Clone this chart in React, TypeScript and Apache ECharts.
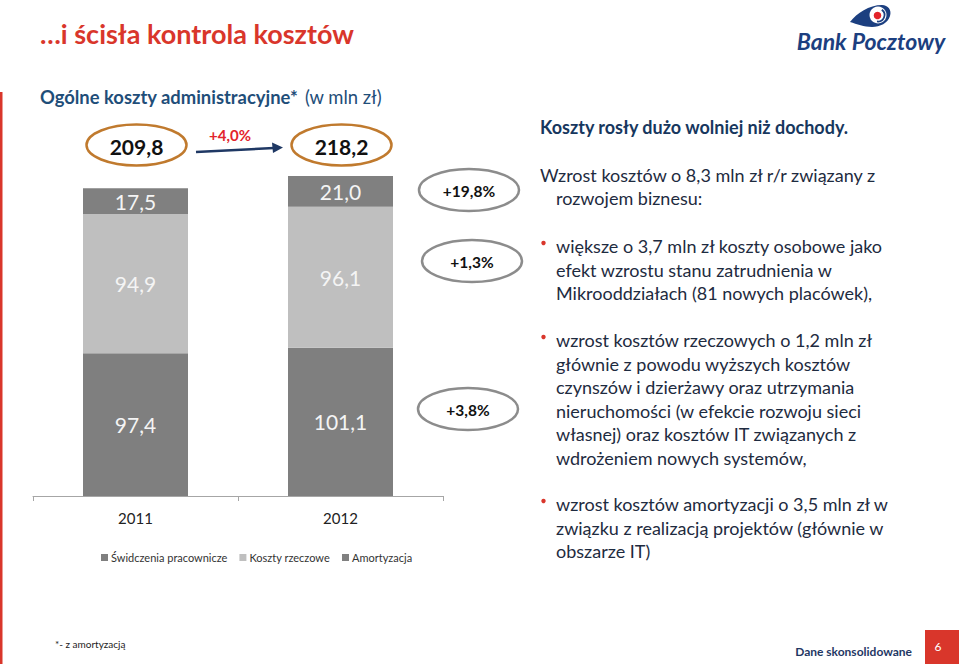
import React, { useEffect, useRef } from "react";
import * as echarts from "echarts";

const years = ["2011", "2012"];
const seriesNames = ["Świdczenia pracownicze", "Koszty rzeczowe", "Amortyzacja"];
const swiadczenia = [97.4, 101.1];
const rzeczowe = [94.9, 96.1];
const amortyzacja = [17.5, 21.0];
const totalGrowth = "+4,0%";
const segmentGrowth = ["+19,8%", "+1,3%", "+3,8%"];

const titleText = "…i ścisła kontrola kosztów";
const subtitleBold = "Ogólne koszty administracyjne*";
const subtitleUnit = "(w mln zł)";
const headline = "Koszty rosły dużo wolniej niż dochody.";
const introLines = ["Wzrost kosztów o 8,3 mln zł r/r związany z", "rozwojem biznesu:"];
const bullet1 = [
  "większe o 3,7 mln zł koszty osobowe jako",
  "efekt wzrostu stanu zatrudnienia w",
  "Mikrooddziałach (81 nowych placówek),",
];
const bullet2 = [
  "wzrost kosztów rzeczowych o 1,2 mln zł",
  "głównie z powodu wyższych kosztów",
  "czynszów i dzierżawy oraz utrzymania",
  "nieruchomości (w efekcie rozwoju sieci",
  "własnej) oraz kosztów IT związanych z",
  "wdrożeniem nowych systemów,",
];
const bullet3 = [
  "wzrost kosztów amortyzacji o 3,5 mln zł w",
  "związku z realizacją projektów (głównie w",
  "obszarze IT)",
];
const footnote = "*- z amortyzacją";
const footerLabel = "Dane skonsolidowane";
const pageNumber = "6";
const logoText = "Bank Pocztowy";

const FONT = "Lato, 'Open Sans', sans-serif";
const fmt = (v: number) => v.toFixed(1).replace(".", ",");

export default function App() {
  const ref = useRef<HTMLDivElement>(null);

  useEffect(() => {
    document.body.style.margin = "0";
    if (!ref.current) return;
    try {
      echarts.graphic.registerShape(
        "bpSwoosh",
        echarts.graphic.extendPath(
          "M850,22 C857,13 869,5 882,5 C888,5 892,10 890,16 C888,23 880,27 872,27 C864,27 857,24 850,22 Z",
          {}
        )
      );
    } catch (e) {}
    const chart = echarts.init(ref.current, null, { renderer: "svg" });

    const label = {
      show: true,
      position: "inside",
      color: "#f4f4f4",
      fontSize: 21,
      fontFamily: FONT,
      formatter: (p: any) => fmt(p.value),
    };
    const dataSets = [swiadczenia, rzeczowe, amortyzacja];
    const colors = ["#7f7f7f", "#bfbfbf", "#808080"];

    chart.setOption({
      animation: false,
      textStyle: { fontFamily: FONT },
      grid: { left: 33, right: 517, top: 56, bottom: 168 },
      xAxis: {
        type: "category",
        data: years,
        axisLine: { lineStyle: { color: "#a6a6a6", width: 1 } },
        axisTick: { show: true, length: 5, lineStyle: { color: "#a6a6a6" } },
        axisLabel: { color: "#222", fontSize: 15, margin: 14, fontFamily: FONT },
      },
      yAxis: { type: "value", min: 0, max: 300, show: false, splitLine: { show: false } },
      legend: {
        data: seriesNames,
        left: 96,
        top: 547,
        icon: "rect",
        itemWidth: 7,
        itemHeight: 7,
        itemGap: 12,
        textStyle: { fontSize: 11, color: "#333", fontFamily: FONT, padding: [0, 0, 0, -2] },
      },
      series: seriesNames.map((name, i) => ({
        name,
        type: "bar",
        stack: "total",
        barWidth: 105,
        data: dataSets[i],
        itemStyle: { color: colors[i] },
        label,
      })),
    });

    const totals = years.map((_, i) => swiadczenia[i] + rzeczowe[i] + amortyzacja[i]);
    const xs = years.map((y) => chart.convertToPixel({ xAxisIndex: 0 }, y) as number);

    const text = (t: string, x: number, y: number, size: number, fill: string, weight = "normal", align = "left", extra: any = {}) => ({
      type: "text",
      silent: true,
      style: {
        text: t,
        x,
        y,
        fill,
        font: `${extra.italic ? "italic " : ""}${weight} ${size}px ${FONT}`,
        textAlign: align,
        textVerticalAlign: "middle",
      },
    });

    const g: any[] = [];
    // left red rule
    g.push({ type: "rect", shape: { x: 0, y: 92, width: 2.5, height: 572 }, style: { fill: "#d9362b" } });
    // title
    g.push(text(titleText, 40, 33, 27, "#d9362b", "bold"));
    g.push(text(subtitleBold, 40, 97, 18.4, "#1f4e79", "bold"));
    g.push(text(subtitleUnit, 305, 97, 18.4, "#1f4e79"));

    // total ellipses
    const totalColors = "#c07a2e";
    totals.forEach((t, i) => {
      g.push({ type: "ellipse", shape: { cx: xs[i] + 1, cy: 145, rx: 50, ry: 20.5 }, style: { fill: "#fff", stroke: totalColors, lineWidth: 2.5 } });
      g.push(text(fmt(t), xs[i] + 1, 146, 21, "#111", "bold", "center"));
    });
    // arrow
    g.push({ type: "line", shape: { x1: 196, y1: 152, x2: 274, y2: 148 }, style: { stroke: "#1f3864", lineWidth: 2.5 } });
    g.push({ type: "polygon", shape: { points: [[283, 147.5], [272, 142.5], [273, 153]] }, style: { fill: "#1f3864" } });
    g.push(text(totalGrowth, 230, 135, 15, "#e3242b", "bold", "center"));

    // segment growth ellipses
    const gy = [190, 261, 409];
    const gx = [469, 472, 468];
    segmentGrowth.forEach((s, i) => {
      g.push({ type: "ellipse", shape: { cx: gx[i], cy: gy[i], rx: 50, ry: 21 }, style: { fill: "#fff", stroke: "#8c8c8c", lineWidth: 2.5 } });
      g.push(text(s, gx[i], gy[i] + 1, 15.5, "#111", "bold", "center"));
    });

    // right panel
    const body = "#1e2b40";
    const fs = 18;
    g.push(text(headline, 540, 127, fs, "#17375e", "bold"));
    g.push(text(introLines[0], 540, 175, fs, body));
    g.push(text(introLines[1], 556, 198, fs, body));
    const lh = 23.5;
    const blocks: [string[], number][] = [[bullet1, 246], [bullet2, 340], [bullet3, 504]];
    blocks.forEach(([lines, y0]) => {
      g.push({ type: "circle", shape: { cx: 543.5, cy: y0 - 3, r: 2.2 }, style: { fill: "#d9362b" } });
      lines.forEach((l, k) => g.push(text(l, 556, y0 + k * lh, fs, body)));
    });

    // footer
    g.push(text(footnote, 55, 644, 10, "#222"));
    g.push(text(footerLabel, 912, 651, 12, "#1f3864", "bold", "right"));
    g.push({ type: "rect", shape: { x: 925, y: 630, width: 34, height: 34 }, style: { fill: "#d9362b" } });
    g.push(text(pageNumber, 938, 646, 12, "#fff", "normal", "center"));

    // logo
    g.push({ type: "bpSwoosh", style: { fill: "#1c3f80" } });
    g.push({ type: "circle", shape: { cx: 878, cy: 15, r: 8.5 }, style: { fill: "#fff" } });
    g.push({ type: "arc", shape: { cx: 878, cy: 15, r: 6.5, startAngle: -Math.PI * 0.3, endAngle: Math.PI * 0.55 }, style: { stroke: "#1c3f80", lineWidth: 1.8, fill: "none" } });
    g.push({ type: "circle", shape: { cx: 877.5, cy: 15.5, r: 3.8 }, style: { fill: "#e3242b" } });
    g.push(text(logoText, 871, 41, 23, "#1c3f80", "bold", "center", { italic: true }));

    chart.setOption({ graphic: { elements: g } });

    return () => chart.dispose();
  }, []);

  return <div ref={ref} style={{ width: 960, height: 664, background: "#fff" }} />;
}
